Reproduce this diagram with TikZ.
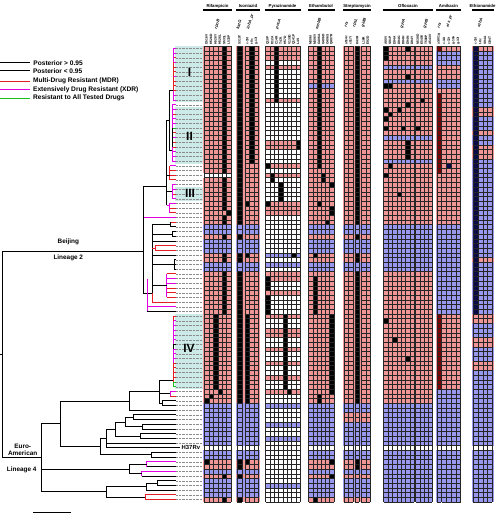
\documentclass[tikz,border=0pt]{standalone}
\usepackage{fontspec}
\setmainfont{Liberation Sans}
\usepackage{tikz}

\definecolor{resred}{RGB}{240,150,150}
\definecolor{susblue}{RGB}{152,152,238}
\definecolor{cladebg}{RGB}{204,234,232}
\definecolor{mdrred}{RGB}{228,30,36}
\definecolor{xdrpink}{RGB}{228,0,228}
\definecolor{allgreen}{RGB}{30,190,30}
\definecolor{mutred}{RGB}{125,0,0}
\definecolor{mutnavy}{RGB}{10,10,70}
\colorlet{rr}{resred}
\colorlet{bb}{susblue}
\colorlet{ww}{white}

% rows: top of row i, centre of row i
\pgfmathdeclarefunction{rt}{1}{\pgfmathparse{46+4.7*#1}}
\pgfmathdeclarefunction{ly}{1}{\pgfmathparse{48.35+4.7*#1}}

% colour of the rows of one drug
\newcommand{\drugrows}[3]{%
  \foreach \rc/\ra/\rb in {#3}
    \fill[\rc] (#1,{rt(\ra)}) rectangle (#2,{rt(\rb+1)});}
% grid of one gene: x, columns, cell width
\newcommand{\genecells}[3]{%
  \draw[cell] \foreach \i in {0,...,#2} {({#1+#3*\i},{rt(0)}) -- ({#1+#3*\i},{rt(97)})};
  \draw[cell] \foreach \j in {0,...,97} {(#1,{rt(\j)}) -- ({#1+#3*#2},{rt(\j)})};}
% mutated cells: x, cell width, column/first/last row
\newcommand{\mutcells}[4][black]{%
  \foreach \k/\ma/\mb in {#4}
    \fill[#1] ({#2+#3*\k},{rt(\ma)}) rectangle ({#2+#3*(\k+1)},{rt(\mb+1)});}

\begin{document}
\begin{tikzpicture}[
  x=1pt, y=-1pt,
  font=\fontsize{6.4}{7}\selectfont\bfseries,
  cell/.style={black!85, line width=0.3pt},
  leader/.style={black!45, line width=0.45pt, dash pattern=on 0.5pt off 0.9pt},
  branch/.style={black, line width=0.95pt},
  thinbranch/.style={black, line width=0.5pt},
  mdr/.style={mdrred, line width=0.95pt},
  xdr/.style={xdrpink, line width=0.95pt},
  allres/.style={allgreen, line width=0.95pt},
  legtext/.style={right, inner sep=0pt, xshift=2.7pt, black, font=\fontsize{6.6}{7}\selectfont\bfseries},
  drug/.style={font=\fontsize{4.3}{5}\selectfont\bfseries, inner sep=0pt},
  gene/.style={font=\fontsize{4}{4.5}\selectfont\bfseries\itshape, rotate=72, anchor=west, inner sep=0pt},
  mut/.style={font=\fontsize{3.3}{3.5}\selectfont\bfseries, rotate=90, anchor=west, inner sep=0pt},
  clade/.style={font=\fontsize{12}{12}\selectfont\bfseries, inner sep=0pt},
  lin/.style={align=center, inner sep=0pt}
]
\useasboundingbox (0,0) rectangle (496,514);

% legend
\draw[line width=1.4pt] (0,62.7) -- (30,62.7) node[legtext] (lgA) {Posterior > 0.95};
\draw[line width=0.6pt] (0,70.7) -- (30,70.7) node[legtext] (lgB) {Posterior < 0.95};
\draw[mdrred, line width=0.8pt] (0,81) -- (30,81) node[legtext] (lgC) {Multi-Drug Resistant (MDR)};
\draw[xdrpink, line width=0.8pt] (0,89.7) -- (30,89.7) node[legtext] (lgD) {Extensively Drug Resistant (XDR)};
\draw[allgreen, line width=0.8pt] (0,98.2) -- (30,98.2) node[legtext] (lgE) {Resistant to All Tested Drugs};

% clades
\fill[cladebg] (175,{rt(0)}) rectangle (203.5,{rt(12)});
\fill[cladebg] (175,{rt(13)}) rectangle (203.5,{rt(25)});
\fill[cladebg] (175,{rt(30)}) rectangle (203.5,{rt(33)});
\fill[cladebg] (175,{rt(57)}) rectangle (203.5,{rt(73)});
\foreach \r in {0,...,84,86,87,...,96}
  \draw[leader] (176,{ly(\r)}) -- (203.5,{ly(\r)});
\node[anchor=west, inner sep=0pt, font=\fontsize{5.9}{6}\selectfont\bfseries] (h37) at (181.5,{ly(85)}) {H37Rv};
\node[clade] (cI) at (189.5,72) {I};
\node[clade] (cII) at (189.5,136) {II};
\node[clade] (cIII) at (190,193.5) {III};
\node[clade] (cIV) at (189,348.5) {IV};

% ---- tree, Beijing ----
% clade I
\foreach \r/\s in {0/xdr,1/xdr,2/mdr,3/xdr,4/mdr,5/mdr,6/xdr,7/mdr,8/mdr,9/mdr,10/xdr,11/xdr}
  \draw[\s] (173,{ly(\r)}) -- (176,{ly(\r)});
\draw[xdr] (173,{ly(0)}) -- (173,{ly(3)});
\draw[mdr] (173,{ly(3)}) -- (173,{ly(9)});
\draw[xdr] (173,{ly(9)}) -- (173,{ly(11)});
% clade II
\foreach \r/\s in {12/xdr,13/xdr,14/mdr,15/xdr,16/xdr,17/allres,18/mdr,19/xdr,20/mdr,21/mdr,22/xdr,23/xdr,24/xdr}
  \draw[\s] (172,{ly(\r)}) -- (176,{ly(\r)});
\draw[xdr] (172,{ly(12)}) -- (172,{ly(17)});
\draw[branch] (172,{ly(17)}) -- (172,{ly(21)});
\draw[xdr] (172,{ly(21)}) -- (172,{ly(24)});
\draw[branch] (173,90) -| (169,150) -- (172,150);
\draw[branch] (169,120) -| (166.5,205);
% rows 25-35
\foreach \r/\s in {25/xdr,26/mdr,27/mdr,28/mdr}
  \draw[\s] (169.5,{ly(\r)}) -- (176,{ly(\r)});
\draw[mdr] (169.5,{ly(25)}) -- (169.5,{ly(28)});
\draw[branch] (166.5,175.5) -- (169.5,175.5);
\foreach \r/\s in {29/xdr,30/xdr,31/mdr,32/xdr}
  \draw[\s] (172,{ly(\r)}) -- (176,{ly(\r)});
\draw[xdr] (172,{ly(29)}) -- (172,{ly(32)});
\draw[branch] (166.5,{ly(30.5)}) -- (172,{ly(30.5)});
\foreach \r/\s in {33/xdr,34/mdr,35/mdr}
  \draw[\s] (169,{ly(\r)}) -- (176,{ly(\r)});
\draw[xdr] (169,{ly(33)}) -- (169,{ly(35)});
\draw[xdr] (166.5,205) -- (169,205);
\draw[xdr] (143,{ly(33.5)}) |- (176,{ly(36)});
% Beijing backbone
\draw[branch] (166.5,186.7) -- (143,186.7) -- (143,293.3) -- (152,293.3);
\draw[branch] (2.7,251) -- (143,251);
% lower Beijing
\draw[branch] (152,224.7) -- (152,293.3);
\draw[mdr] (170.7,{ly(37)}) -- (176,{ly(37)});
\draw[branch] (170.7,{ly(38)}) -- (176,{ly(38)});
\draw[branch] (170.7,{ly(37)}) -- (170.7,{ly(38)});
\draw[branch] (152,224.7) -- (170.7,224.7);
\draw[branch] (176,{ly(39)}) -| (172.5,{ly(40)}) -- (176,{ly(40)});
\draw[branch] (152,234) -- (172.5,234);
\draw[branch] (152,{ly(41)}) -- (176,{ly(41)});
\draw[mdr] (176,{ly(42)}) -| (155,{ly(43)}) -- (176,{ly(43)});
\draw[mdr] (152,248.1) -- (155,248.1);
\draw[branch] (152,{ly(44)}) -- (176,{ly(44)});
\draw[branch] (176,{ly(45)}) -| (174,{ly(47)}) -- (176,{ly(47)});
\draw[branch] (174,{ly(46)}) -- (176,{ly(46)});
\draw[branch] (152,{ly(46)}) -- (174,{ly(46)});
\foreach \r/\s in {48/mdr,49/xdr,50/xdr,51/mdr,52/mdr,53/mdr}
  \draw[\s] (166.5,{ly(\r)}) -- (176,{ly(\r)});
\draw[xdr] (166.5,{ly(48)}) -- (166.5,{ly(53)});
\draw[branch] (152,{ly(50.5)}) -- (166.5,{ly(50.5)});
\draw[mdr] (152,293.3) |- (176,{ly(54)});
\draw[xdr] (147,{ly(49)}) -- (147,{ly(56)});
\draw[xdr] (147,{ly(55)}) -- (176,{ly(55)});
\draw[thinbranch] (147,{ly(56)}) -- (176,{ly(56)});

% ---- tree, Euro-American ----
% clade IV
\foreach \r/\s in {57/mdr,58/xdr,59/xdr,60/xdr,61/xdr,62/xdr,63/branch,64/xdr,65/xdr,66/xdr,67/mdr,68/mdr,69/mdr,70/mdr,71/allres,72/allres}
  \draw[\s] (173.3,{ly(\r)}) -- (176,{ly(\r)});
\draw[mdr] (173.3,{ly(57)}) -- (173.3,{ly(58)});
\draw[xdr] (173.3,{ly(58)}) -- (173.3,{ly(63)});
\draw[branch] (173.3,{ly(63)}) -- (173.3,{ly(64)});
\draw[xdr] (173.3,{ly(64)}) -- (173.3,{ly(67)});
\draw[mdr] (173.3,{ly(67)}) -- (173.3,{ly(71)});
\draw[allres] (173.3,{ly(71)}) -- (173.3,{ly(72)});
\draw[branch] (173.3,380) -| (159.3,{ly(75.5)}) -- (162,{ly(75.5)});
\draw[xdr] (176,{ly(73)}) -| (170,{ly(74)});
\draw[mdr] (170,{ly(74)}) -- (176,{ly(74)});
\draw[branch] (159.3,{ly(73.5)}) -- (170,{ly(73.5)});
\draw[branch] (176,{ly(75)}) -| (162,{ly(76)}) -- (176,{ly(76)});
\draw[branch] (159.3,391.7) -| (129.3,{ly(77)}) -- (176,{ly(77)});
\draw[branch] (129.3,401) -| (60,446.6) -- (100,446.6);
% H37Rv group
\draw[branch] (176,{ly(78)}) -| (133.3,{ly(79)}) -- (176,{ly(79)});
\draw[branch] (176,{ly(80)}) -| (142,{ly(81)}) -- (176,{ly(81)});
\draw[branch] (133.3,417.3) -| (125,426.7) -- (142,426.7);
\draw[branch] (176,{ly(82)}) -| (140,{ly(83)}) -- (176,{ly(83)});
\draw[branch] (125,422) -| (115,436.1) -- (140,436.1);
\draw[branch] (115,429) -| (106,{ly(85)}) -- (180,{ly(85)});
\draw[branch] (106,{ly(84)}) -- (176,{ly(84)});
\draw[branch] (106,438.4) -| (100,454.9) -- (151.7,454.9);
\draw[branch] (176,{ly(86)}) -| (151.7,{ly(87)}) -- (176,{ly(87)});
% lower lineage 4
\draw[branch] (60,423.8) -| (41.7,491.9) -- (106.7,491.9);
\draw[branch] (41.7,469) -- (129.3,469);
\draw[xdr] (176,{ly(88)}) -| (146.7,{ly(89)});
\draw[branch] (146.7,{ly(89)}) -- (176,{ly(89)});
\draw[xdr] (176,{ly(90)}) -| (141.7,{ly(91)});
\draw[branch] (141.7,{ly(91)}) -- (176,{ly(91)});
\draw[branch] (146.7,464.3) -| (129.3,473.7) -- (141.7,473.7);
\draw[branch] (176,{ly(92)}) -| (157,{ly(93)}) -- (176,{ly(93)});
\draw[branch] (157,483.1) -| (146.7,{ly(94)}) -- (176,{ly(94)});
\draw[mdr] (176,{ly(95)}) -| (145,{ly(96)}) -- (176,{ly(96)});
\draw[branch] (146.7,486.6) -| (106.7,497.2) -- (145,497.2);
% root
\draw[branch] (2.7,251) -- (2.7,457.9) -- (41.7,457.9);
\draw[branch] (0,354.5) -- (2.7,354.5);
\node[lin] (lbBei) at (68.3,241.7) {Beijing};
\node[lin] (lbL2) at (68.3,258) {Lineage 2};
\node[lin] (lbEA) at (22.7,449.5) {Euro-\\American};
\node[lin] (lbL4) at (21.7,470) {Lineage 4};
\draw[line width=0.9pt] (33.3,512.3) -- (70.7,512.3);

% ---- drug resistance grid ----
% Rifampicin
\drugrows{203.3}{231.8}{rr/0/26, ww/27/27, rr/28/37, bb/38/39, rr/40/40, bb/41/43, rr/44/45, bb/46/47, rr/48/75, bb/76/84, ww/85/85, bb/86/87, rr/88/89, bb/90/90, rr/91/91, bb/92/95, rr/96/96}
\mutcells{204.3}{4.45}{4/0/26, 4/28/34, 5/35/35, 4/36/37, 4/40/40, 4/44/45, 4/48/56, 2/57/72, 3/73/73, 1/74/74, 0/75/75, 0/88/88, 4/91/91, 4/96/96}
\genecells{204.3}{6}{4.45}
% Isoniazid
\drugrows{236.3}{259.6}{rr/0/37, bb/38/39, rr/40/40, bb/41/43, rr/44/45, bb/46/47, rr/48/75, bb/76/84, ww/85/85, bb/86/87, rr/88/89, bb/90/90, rr/91/91, bb/92/95, rr/96/96}
\mutcells{237.3}{4.45}{0/0/37, 0/40/40, 0/44/45, 0/48/75, 0/88/89, 0/91/91, 0/96/96}
\mutcells{245.1}{4.5}{1/0/24, 0/33/33, 0/44/44, 0/57/75, 0/88/88}
\genecells{237.3}{1}{4.45}
\genecells{245.1}{3}{4.5}
% Pyrazinamide
\drugrows{264.6}{300.8}{ww/0/96, rr/0/2, rr/4/4, rr/11/11, rr/20/21, rr/25/25, rr/27/27, rr/33/35, bb/44/44, bb/46/46, rr/48/49, rr/52/52, rr/57/57, rr/60/61, rr/64/64, rr/67/67, rr/70/70, rr/73/73, bb/76/76, bb/80/80, bb/83/83, bb/93/93}
\mutcells{265.6}{4.33}{2/0/11, 7/20/21, 0/25/25, 1/27/28, 3/29/32, 0/33/33, 6/44/44, 0/49/51, 0/53/56, 4/57/72, 5/73/73}
\genecells{265.6}{8}{4.33}
% Ethambutol
\drugrows{307.5}{334.5}{rr/0/7, bb/8/8, rr/9/37, bb/38/39, rr/40/40, bb/41/43, rr/44/45, bb/46/47, rr/48/75, bb/76/84, ww/85/85, bb/86/87, rr/88/89, bb/90/90, rr/91/91, bb/92/95, rr/96/96}
\mutcells{308.5}{4.2}{2/0/25, 3/27/28, 5/29/29, 2/33/33, 5/34/35, 4/37/37, 1/44/44, 1/49/56, 5/57/73, 2/74/75, 5/88/88, 5/91/91, 1/96/96}
\genecells{308.5}{6}{4.2}
% Streptomycin
\drugrows{343}{371}{rr/0/37, bb/38/39, rr/40/40, bb/41/43, rr/44/45, bb/46/47, rr/48/75, bb/76/77, rr/78/79, bb/80/84, ww/85/85, bb/86/87, rr/88/89, bb/90/90, rr/91/91, bb/92/95, rr/96/96}
\mutcells{355}{4.4}{0/0/37, 0/40/40, 0/44/45, 0/48/75, 0/88/89}
\genecells{344}{2}{4.4}
\genecells{355}{1}{4.4}
\genecells{361.4}{2}{4.3}
% Ofloxacin
\drugrows{382.5}{433.2}{rr/0/3, bb/4/4, rr/5/6, bb/7/7, rr/8/18, bb/19/19, rr/20/23, bb/24/24, rr/25/37, bb/38/47, rr/48/75, bb/76/84, ww/85/85, bb/86/96}
\mutcells{383.5}{4.4}{0/0/2, 5/0/0, 5/6/6, 0/8/8, 1/8/8, 5/12/12, 0/13/13, 3/13/13, 1/14/14, 0/15/15, 0/17/17, 4/17/17, 5/20/23, 1/25/25, 0/27/27, 3/31/31, 0/58/58, 2/62/62, 5/66/66}
\mutcells{415.6}{4.15}{1/11/11, 0/17/17}
\genecells{383.5}{7}{4.4}
\genecells{415.6}{4}{4.15}
% Amikacin
\drugrows{435.8}{461}{rr/0/0, bb/1/3, rr/4/6, bb/7/8, rr/9/37, bb/38/56, rr/57/72, bb/73/84, ww/85/85, bb/86/96}
\mutcells[mutred]{436.8}{4.2}{0/0/0, 0/10/26, 0/57/72}
\mutcells[mutnavy]{441.6}{4.75}{1/25/25}
\genecells{436.8}{1}{4.2}
\genecells{441.6}{4}{4.75}
% Ethionamide
\drugrows{472.3}{493.6}{rr/0/0, bb/1/12, rr/13/14, bb/15/17, rr/18/18, bb/19/20, rr/21/23, bb/24/44, rr/45/45, bb/46/56, rr/57/58, bb/59/61, rr/62/63, bb/64/66, rr/67/68, bb/69/84, ww/85/85, bb/86/96}
\mutcells[mutnavy]{473.3}{4.7}{0/0/56}
\genecells{473.3}{4}{4.7}

% ---- headers ----
\foreach \x/\y/\t in {217.5/Rifampicin/rif, 248/Isoniazid/inh, 282.5/Pyrazinamide/pza, 321/Ethambutol/emb, 357/Streptomycin/sm, 408/Ofloxacin/ofx, 448.5/Amikacin/amk}
  \node[drug] (\t) at (\x,6.3) {\y};
\node[drug, anchor=east] (eth) at (495.6,6.3) {Ethionamide};
\foreach \a/\b in {203.3/231.8, 236.3/259.6, 264.6/300.8, 307.5/334.5, 343/371, 382.5/433.2, 435.8/461, 472.3/493.6}
  \draw[line width=1.1pt] (\a,10) -- (\b,10);
\node[gene] (gRpoB) at (216,29) {rpoB};
\node[gene] (gKatG) at (237.5,29) {katG};
\node[gene] (gInhA) at (248,29) {inhA\_pr};
\node[gene] (gPncA) at (277,29) {pncA};
\node[gene] (gEmbB) at (316.5,29) {embB};
\node[gene] (gRrs) at (345.5,27) {rrs};
\node[gene] (gRpsL) at (354,27) {rpsL};
\node[gene] (gGidB) at (362.5,27) {gidB};
\node[gene] (gGyrA) at (401.5,28) {gyrA};
\node[gene] (gGyrB) at (424.5,28) {gyrB};
\node[gene] (gRrsB) at (438.5,28) {rrs};
\node[gene] (gEis) at (447.5,27) {eis\_pr};
\node[gene] (gEthA) at (478.5,27) {ethA};
% mutation labels
\foreach \x/\t in {206.5/D516V, 211/H526D, 215.4/H526Y, 219.8/H526L, 224.3/S531L, 228.7/L533P,
  239.5/S315T, 247.3/c-15t, 251.8/t-8c, 256.3/g-17t,
  267.8/Q10P, 272.1/D12A, 276.4/C14R, 280.8/T47A, 285.1/H57D, 289.4/V139G, 293.8/Q141P, 298.1/L4S,
  310.6/M306I, 314.8/M306V, 319/G406A, 323.2/G406D, 327.4/G406S, 331.6/Q497R,
  346.2/a514c, 350.6/c517t, 357.2/K43R, 363.5/L16R, 367.8/E92D,
  385.7/A90V, 390.1/S91P, 394.5/D94A, 398.9/D94G, 403.3/D94H, 407.7/D94N, 412.1/D94Y,
  417.7/N538D, 421.8/E540V, 426/T500P, 430.1/A543V,
  438.9/a1401g, 444/c-14t, 448.7/c-12t, 453.5/g-10a, 458.2/g-37t,
  475.6/c-15t, 480.3/t-8c, 485/S94A, 489.7/I194T}
  \node[mut] at (\x,45) {\t};
\end{tikzpicture}
\end{document}
